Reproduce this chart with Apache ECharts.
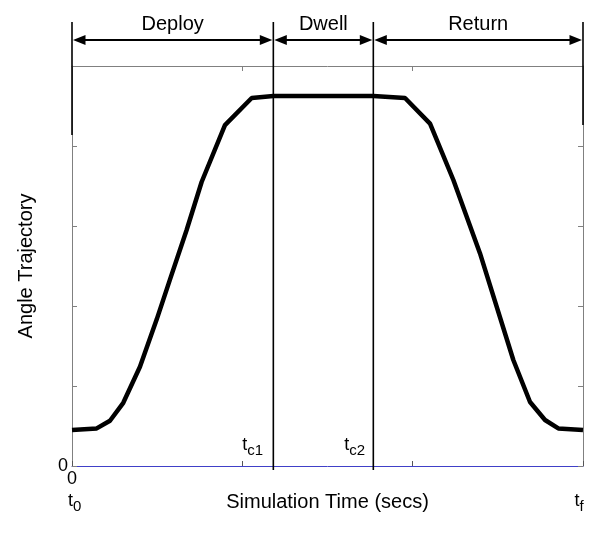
<!DOCTYPE html>
<html>
<head>
<meta charset="utf-8">
<script src="https://cdn.jsdelivr.net/npm/echarts@6/dist/echarts.min.js"></script>
<style>
html,body{margin:0;padding:0;background:#ffffff;}
#chart{width:601px;height:541px;}
</style>
</head>
<body>
<div id="chart"></div>
<script>
// ---------- data ----------
const timeX  = [0.000, 0.145, 0.223, 0.301, 0.399, 0.497, 0.575, 0.673, 0.761, 0.898, 1.055, 1.182,
                1.769, 1.955, 2.102, 2.239, 2.395, 2.591, 2.689, 2.777, 2.855, 3.000];
const angleY = [0.45, 0.47, 0.566, 0.79, 1.24, 1.83, 2.33, 2.95, 3.55, 4.26, 4.60, 4.625,
                4.625, 4.60, 4.28, 3.575, 2.66, 1.325, 0.80, 0.575, 0.47, 0.45];
const xTickValues = [0, 1, 2, 3];
const xTickLabels = ['0', '', '', ''];
const yTickValues = [0, 1, 2, 3, 4, 5];
const yTickLabels = ['0', '', '', '', '', ''];
const phaseNames  = ['Deploy', 'Dwell', 'Return'];
const phaseBounds = [0, 1.182, 1.769, 3];
const markerMain  = ['t', 't', 't', 't'];
const markerSub   = ['0', 'c1', 'c2', 'f'];
const markerX     = [0, 1.182, 1.769, 3];

// ---------- layout / style ----------
const FONT = "'Liberation Sans', Arial, sans-serif";
const GRAY = '#808080';
const markerLayout = [
  {dx: 1,   place: 'below'},
  {dx: -26, place: 'above'},
  {dx: -24, place: 'above'},
  {dx: -3.5, place: 'below'}
];

const chart = echarts.init(document.getElementById('chart'), null, {renderer: 'canvas'});

const option = {
  animation: false,
  backgroundColor: '#ffffff',
  textStyle: {fontFamily: FONT},
  grid: {left: 72, right: 18, top: 66, bottom: 75, containLabel: false},
  xAxis: [{
    type: 'value', min: 0, max: 3, interval: 1, position: 'bottom',
    axisLine: {show: true, onZero: false, lineStyle: {color: '#4040c8', width: 1}},
    axisTick: {show: true, inside: true, length: 5, lineStyle: {color: '#555555'}},
    axisLabel: {show: true, margin: 4, fontSize: 18, color: '#000', fontFamily: FONT,
      formatter: v => { const i = xTickValues.indexOf(v); return i >= 0 ? xTickLabels[i] : ''; }},
    splitLine: {show: false},
    name: 'Simulation Time (secs)', nameLocation: 'middle', nameGap: 24,
    nameTextStyle: {fontSize: 20, color: '#000', fontFamily: FONT}
  }, {
    type: 'value', min: 0, max: 3, interval: 1, position: 'top',
    axisLine: {show: true, onZero: false, lineStyle: {color: GRAY, width: 1}},
    axisTick: {show: true, inside: true, length: 5, lineStyle: {color: GRAY}},
    axisLabel: {show: false}, splitLine: {show: false}
  }],
  yAxis: [{
    type: 'value', min: 0, max: 5, interval: 1, position: 'left',
    axisLine: {show: true, onZero: false, lineStyle: {color: GRAY, width: 1}},
    axisTick: {show: true, inside: true, length: 5, lineStyle: {color: GRAY}},
    axisLabel: {show: true, margin: 4, fontSize: 18, color: '#000', fontFamily: FONT,
      formatter: v => { const i = yTickValues.indexOf(v); return i >= 0 ? yTickLabels[i] : ''; }},
    splitLine: {show: false},
    name: 'Angle Trajectory', nameLocation: 'middle', nameGap: 36, nameRotate: 90,
    nameTextStyle: {fontSize: 20, color: '#000', fontFamily: FONT}
  }, {
    type: 'value', min: 0, max: 5, interval: 1, position: 'right',
    axisLine: {show: true, onZero: false, lineStyle: {color: GRAY, width: 1}},
    axisTick: {show: true, inside: true, length: 5, lineStyle: {color: GRAY}},
    axisLabel: {show: false}, splitLine: {show: false}
  }],
  series: [{
    type: 'line',
    xAxisIndex: 0, yAxisIndex: 0,
    data: timeX.map((x, i) => [x, angleY[i]]),
    showSymbol: false, symbol: 'none',
    lineStyle: {color: '#000', width: 4.5},
    z: 2
  }]
};
chart.setOption(option);

function buildGraphic() {
  const P = (x, y) => chart.convertToPixel({gridIndex: 0}, [x, y]);
  const yBase = P(0, 0)[1];
  const yTop = P(0, 5)[1];
  const els = [];
  const bx = phaseBounds.map(b => P(b, 0)[0]);
  const lineTop = yTop - 44;
  const arrowY = yTop - 26;
  const textY = yTop - 41.5;

  // vertical boundary lines
  bx.forEach((x, i) => {
    let bottom;
    if (i === 0) bottom = yTop + 69;
    else if (i === bx.length - 1) bottom = yTop + 59;
    else bottom = yBase + 4;
    els.push({type: 'line', z: 10, shape: {x1: x, y1: lineTop, x2: x, y2: bottom},
      style: {stroke: '#000', lineWidth: 1.6}});
  });

  // double-headed arrows + phase names
  const headL = 12.5, headH = 5;
  for (let i = 0; i < phaseNames.length; i++) {
    const x0 = bx[i] + 1, x1 = bx[i + 1] - 1;
    els.push({type: 'line', z: 10, shape: {x1: x0 + 4, y1: arrowY, x2: x1 - 4, y2: arrowY},
      style: {stroke: '#000', lineWidth: 2}});
    els.push({type: 'polygon', z: 10, shape: {points: [[x0, arrowY], [x0 + headL, arrowY - headH], [x0 + headL, arrowY + headH]]},
      style: {fill: '#000'}});
    els.push({type: 'polygon', z: 10, shape: {points: [[x1, arrowY], [x1 - headL, arrowY - headH], [x1 - headL, arrowY + headH]]},
      style: {fill: '#000'}});
    els.push({type: 'text', z: 10, style: {text: phaseNames[i], x: (bx[i] + bx[i + 1]) / 2, y: textY,
      align: 'center', verticalAlign: 'middle', fontSize: 20, fontFamily: FONT, fill: '#000'}});
  }

  // time markers t0, tc1, tc2, tf
  markerX.forEach((mx, i) => {
    const px = P(mx, 0)[0] + markerLayout[i].dx;
    const ty = markerLayout[i].place === 'below' ? yBase + 35 : yBase - 20.5;
    els.push({type: 'text', z: 10, style: {text: markerMain[i], x: px, y: ty,
      align: 'right', verticalAlign: 'middle', fontSize: 18, fontFamily: FONT, fill: '#000'}});
    els.push({type: 'text', z: 10, style: {text: markerSub[i], x: px, y: ty + 5.5,
      align: 'left', verticalAlign: 'middle', fontSize: 15, fontFamily: FONT, fill: '#000'}});
  });
  return els;
}

chart.setOption({graphic: buildGraphic()});
</script>
</body>
</html>
